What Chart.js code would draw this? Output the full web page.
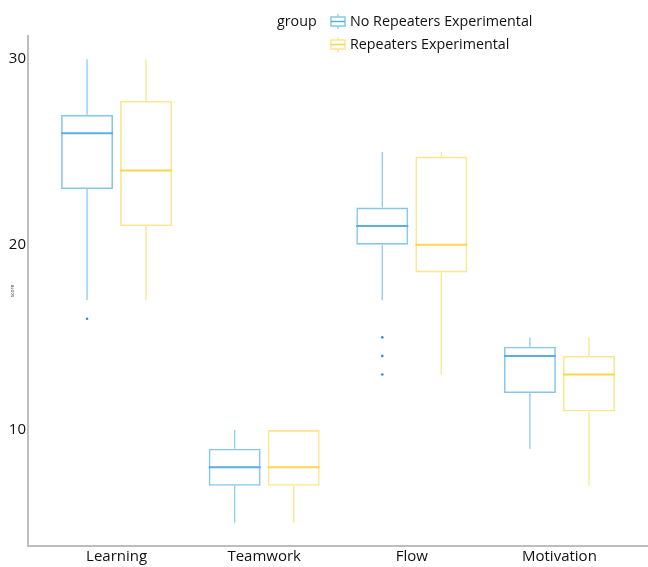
<!DOCTYPE html>
<html>
<head>
<meta charset="utf-8">
<script src="https://cdn.jsdelivr.net/npm/chart.js@4/dist/chart.umd.min.js"></script>
<style>
  html, body { margin: 0; padding: 0; background: #fff; }
  #wrap { position: relative; width: 648px; height: 567px; }
  #legend { position: absolute; left: 277px; top: 10px; font-family: "Open Sans", sans-serif; font-size: 14.3px; color: #111; }
  #legend .row { position: absolute; white-space: nowrap; height: 22px; line-height: 22px; }
  #legend svg { position: absolute; top: 4px; }
</style>
</head>
<body>
<div id="wrap">
  <canvas id="chart" width="648" height="567"></canvas>
  <div id="legend"></div>
</div>
<script>
// Score categories and per-group five-number summaries
const categories = ['Learning', 'Teamwork', 'Flow', 'Motivation'];
const groupNames = ['No Repeaters Experimental', 'Repeaters Experimental'];
const yTicks = [10, 20, 30];

const noRepMin = [17, 5, 17, 9];
const noRepQ1 = [23, 7, 20, 12];
const noRepMedian = [26, 8, 21, 14];
const noRepQ3 = [27, 9, 22, 14.5];
const noRepMax = [30, 10, 25, 15];
const noRepOutliers = [[16], [], [15, 14, 13], []];

const repMin = [17, 5, 13, 7];
const repQ1 = [21, 7, 18.5, 11];
const repMedian = [24, 8, 20, 13];
const repQ3 = [27.75, 10, 24.75, 14];
const repMax = [30, 10, 25, 15];
const repOutliers = [[], [], [], []];

const styles = [
  { box: '#86c8ea', median: '#5aaee0', whisker: '#93d0ee', dot: '#2f8fd0' },
  { box: '#fde592', median: '#fcd54f', whisker: '#fde592', dot: '#f5c842' }
];

function makeBoxDataset(i, q1, q3, min, med, max, outliers) {
  return {
    label: groupNames[i],
    data: categories.map((c, k) => ({ x: k + 1, y: [q1[k], q3[k]] })),
    stats: { min, med, max, outliers },
    backgroundColor: 'rgba(255,255,255,0)',
    borderColor: styles[i].box,
    borderWidth: 1.6,
    borderSkipped: false,
    categoryPercentage: 0.8,
    barPercentage: 0.88
  };
}

// Whiskers, medians and outlier points drawn on top of the floating bars
const boxplotParts = {
  id: 'boxplotParts',
  afterDatasetsDraw(chart) {
    const ctx = chart.ctx;
    const y = chart.scales.y;
    chart.data.datasets.forEach((ds, di) => {
      const meta = chart.getDatasetMeta(di);
      const st = styles[di];
      meta.data.forEach((bar, k) => {
        const q1 = ds.data[k].y[0], q3 = ds.data[k].y[1];
        const cx = bar.x, half = bar.width / 2;
        ctx.save();
        ctx.lineWidth = 1.4;
        ctx.strokeStyle = st.whisker;
        ctx.beginPath();
        ctx.moveTo(cx, y.getPixelForValue(q3));
        ctx.lineTo(cx, y.getPixelForValue(ds.stats.max[k]));
        ctx.moveTo(cx, y.getPixelForValue(q1));
        ctx.lineTo(cx, y.getPixelForValue(ds.stats.min[k]));
        ctx.stroke();
        ctx.lineWidth = 2;
        ctx.strokeStyle = st.median;
        const my = y.getPixelForValue(ds.stats.med[k]);
        ctx.beginPath();
        ctx.moveTo(cx - half, my);
        ctx.lineTo(cx + half, my);
        ctx.stroke();
        ctx.fillStyle = st.dot;
        ds.stats.outliers[k].forEach(v => {
          ctx.beginPath();
          ctx.arc(cx, y.getPixelForValue(v), 1.3, 0, Math.PI * 2);
          ctx.fill();
        });
        ctx.restore();
      });
    });
  }
};

const chart = new Chart(document.getElementById('chart'), {
  type: 'bar',
  data: {
    datasets: [
      makeBoxDataset(0, noRepQ1, noRepQ3, noRepMin, noRepMedian, noRepMax, noRepOutliers),
      makeBoxDataset(1, repQ1, repQ3, repMin, repMedian, repMax, repOutliers)
    ]
  },
  options: {
    responsive: false,
    animation: false,
    layout: { padding: { top: 36, right: 0, left: 0, bottom: 0 } },
    plugins: { legend: { display: false }, tooltip: { enabled: false } },
    scales: {
      x: {
        type: 'linear',
        offset: false,
        min: 0.4,
        max: 4.6,
        grid: { display: false, drawTicks: false, offset: false },
        border: { display: true, color: '#bdbdbd', width: 2 },
        afterBuildTicks(scale) { scale.ticks = categories.map((c, k) => ({ value: k + 1 })); },
        afterFit(scale) { scale.height = 21; },
        ticks: {
          autoSkip: false,
          maxRotation: 0,
          padding: 2,
          color: '#111',
          font: { family: 'Open Sans', size: 15 },
          callback: (v) => categories[Math.round(v) - 1]
        }
      },
      y: {
        min: 3.75,
        max: 31.25,
        grid: { display: false, drawTicks: false },
        border: { display: true, color: '#bdbdbd', width: 2 },
        afterBuildTicks(scale) { scale.ticks = yTicks.map(v => ({ value: v })); },
        afterFit(scale) { scale.width = 28; },
        title: { display: true, text: 'score', color: '#444', font: { family: 'Open Sans', size: 5 }, padding: { top: 10, bottom: 0 } },
        ticks: {
          padding: 2,
          color: '#111',
          font: { family: 'Open Sans', size: 15 }
        }
      }
    }
  },
  plugins: [boxplotParts]
});

// Legend: title "group" followed by one boxplot key per group
const legend = document.getElementById('legend');
const title = document.createElement('div');
title.className = 'row';
title.style.left = '0px';
title.style.top = '0px';
title.textContent = 'group';
legend.appendChild(title);
groupNames.forEach((name, i) => {
  const row = document.createElement('div');
  row.className = 'row';
  row.style.left = '53px';
  row.style.top = (i * 23) + 'px';
  const c = styles[i];
  row.innerHTML =
    '<svg width="16" height="15" viewBox="0 0 16 15">' +
    '<line x1="8" y1="0" x2="8" y2="3" stroke="' + c.whisker + '" stroke-width="1.4"/>' +
    '<line x1="8" y1="12" x2="8" y2="15" stroke="' + c.whisker + '" stroke-width="1.4"/>' +
    '<rect x="1" y="3" width="14" height="9" fill="none" stroke="' + c.box + '" stroke-width="1.5"/>' +
    '<line x1="1" y1="7.5" x2="15" y2="7.5" stroke="' + c.median + '" stroke-width="1.5"/>' +
    '</svg><span style="margin-left:20px">' + name + '</span>';
  legend.appendChild(row);
});
</script>
</body>
</html>
